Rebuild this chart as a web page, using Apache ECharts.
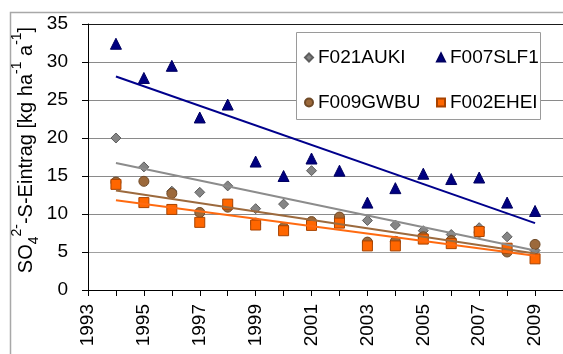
<!DOCTYPE html>
<html>
<head>
<meta charset="utf-8">
<script src="https://cdn.jsdelivr.net/npm/echarts@6/dist/echarts.min.js"></script>
<style>
  html, body { margin: 0; padding: 0; background: #fff; }
  #chart-container { width: 563px; height: 354px; }
</style>
</head>
<body>
<div id="chart-container"></div>
<script>
const years = [1994, 1995, 1996, 1997, 1998, 1999, 2000, 2001, 2002, 2003, 2004, 2005, 2006, 2007, 2008, 2009];

const f021auki = [20.0, 16.2, 13.0, 12.85, 13.7, 10.7, 11.3, 15.7, 9.4, 9.15, 8.55, 7.8, 7.3, 8.2, 7.0, 5.2];
const f007slf1 = [32.4, 27.9, 29.5, 22.7, 24.4, 16.9, 15.0, 17.3, 15.7, 11.5, 13.4, 15.3, 14.6, 14.8, 11.5, 10.4];
const f009gwbu = [14.2, 14.3, 12.7, 10.2, 10.9, 8.8, 8.2, 9.0, 9.6, 6.3, 6.4, 7.0, 6.5, 7.6, 5.0, 6.0];
const f002ehei = [13.9, 11.5, 10.6, 8.9, 11.3, 8.55, 7.8, 8.5, 8.8, 5.8, 5.8, 6.7, 6.1, 7.7, 5.5, 4.1];

// linear trend lines, start/end values
const trendYears = [1994, 2009];
const trendF021 = [16.7, 5.2];
const trendF007 = [28.1, 8.8];
const trendF009 = [13.1, 4.8];
const trendF002 = [11.8, 4.5];

const yTicks = [0, 5, 10, 15, 20, 25, 30, 35];

function pairs(xs, ys) {
    return xs.map((x, i) => [x, ys[i]]);
}

const FONT = "Liberation Sans, Arial, sans-serif";

const chartDom = document.getElementById("chart-container");
const myChart = echarts.init(chartDom);

const points = [
    {name: "F021AUKI", data: f021auki, symbol: "diamond", size: 10, color: "#858585", border: "#5e5e5e", z: 2},
    {name: "F007SLF1", data: f007slf1, symbol: "triangle", size: 11, color: "#000080", border: "#000060", z: 2},
    {name: "F009GWBU", data: f009gwbu, symbol: "circle", size: 10, color: "#9c693b", border: "#6f4a28", z: 3},
    {name: "F002EHEI", data: f002ehei, symbol: "rect", size: 10, color: "#ff6600", border: "#a84300", z: 4}
];

const trends = [
    {data: trendF021, color: "#8c8c8c"},
    {data: trendF007, color: "#00008c"},
    {data: trendF009, color: "#9c6a3e"},
    {data: trendF002, color: "#ff6a10"}
];

const series = [];
points.forEach((p) => {
    series.push({
        name: p.name,
        type: "scatter",
        data: pairs(years, p.data),
        symbol: p.symbol,
        symbolSize: p.size,
        z: p.z,
        itemStyle: {color: p.color, borderColor: p.border, borderWidth: 1, opacity: 1}
    });
});
trends.forEach((t) => {
    series.push({
        type: "line",
        data: pairs(trendYears, t.data),
        symbol: "none",
        z: 5,
        silent: true,
        lineStyle: {color: t.color, width: 2}
    });
});

// one legend per cell so the 2x2 block lines up like the original
const legendCells = [
    {name: "F021AUKI", icon: "diamond", left: 304, top: 48},
    {name: "F007SLF1", icon: "triangle", left: 436, top: 48},
    {name: "F009GWBU", icon: "circle", left: 304, top: 93},
    {name: "F002EHEI", icon: "rect", left: 436, top: 93}
];

const legends = legendCells.map((cell) => ({
    data: [{name: cell.name, icon: cell.icon}],
    left: cell.left,
    top: cell.top,
    padding: 0,
    itemWidth: 8,
    itemHeight: 8,
    z: 20,
    selectedMode: false,
    textStyle: {fontFamily: FONT, fontSize: 19, color: "#000"}
}));

const option = {
    animation: false,
    backgroundColor: "#fff",
    textStyle: {fontFamily: FONT},
    grid: {left: 88, right: -4, top: 24, bottom: 64, containLabel: false},
    legend: legends,
    graphic: [
        {
            type: "rect",
            z: -10,
            shape: {x: 10.5, y: 12.5, width: 700, height: 500},
            style: {fill: "none", stroke: "#a8a8a8", lineWidth: 1.5}
        },
        {
            type: "rect",
            z: 10,
            shape: {x: 296.5, y: 32.5, width: 244, height: 87},
            style: {fill: "#fff", stroke: "#9a9a9a", lineWidth: 1}
        },
        {
            type: "text",
            z: 10,
            x: 26,
            y: 150,
            rotation: Math.PI / 2,
            style: {
                text: "{b|SO}{sub|4}{sup|2-}{b|-S-Eintrag [kg ha}{sup|-1}{b| a}{sup|-1}{b|]}",
                align: "center",
                verticalAlign: "middle",
                fill: "#000",
                rich: {
                    b: {fontFamily: FONT, fontSize: 20, lineHeight: 31, fill: "#000"},
                    sup: {fontFamily: FONT, fontSize: 14, lineHeight: 14, verticalAlign: "top", fill: "#000"},
                    sub: {fontFamily: FONT, fontSize: 14, lineHeight: 14, verticalAlign: "bottom", fill: "#000"}
                }
            }
        }
    ],
    xAxis: {
        type: "value",
        min: 1993,
        max: 2010,
        interval: 1,
        axisLine: {show: true, onZero: false, lineStyle: {color: "#000", width: 1}},
        axisTick: {show: true, inside: false, length: 6, lineStyle: {color: "#000"}},
        splitLine: {show: false},
        axisLabel: {
            rotate: 90,
            margin: 14,
            fontFamily: FONT,
            fontSize: 19,
            color: "#000",
            formatter: (v) => ((v - 1993) % 2 === 0 && v < 2010 ? String(v) : "")
        }
    },
    yAxis: {
        type: "value",
        min: yTicks[0],
        max: yTicks[yTicks.length - 1],
        interval: 5,
        axisLine: {show: true, lineStyle: {color: "#000", width: 1}},
        axisTick: {show: true, inside: false, length: 6, lineStyle: {color: "#000"}},
        splitLine: {
            show: true,
            lineStyle: {color: ["#8a8a8a", "#a0a0a0", "#8a8a8a", "#8a8a8a", "#8a8a8a", "#8a8a8a", "#8a8a8a", "#1a1a1a"], width: 1}
        },
        axisLabel: {margin: 20, fontFamily: FONT, fontSize: 19, color: "#000"}
    },
    series: series
};

option && myChart.setOption(option);
</script>
</body>
</html>
